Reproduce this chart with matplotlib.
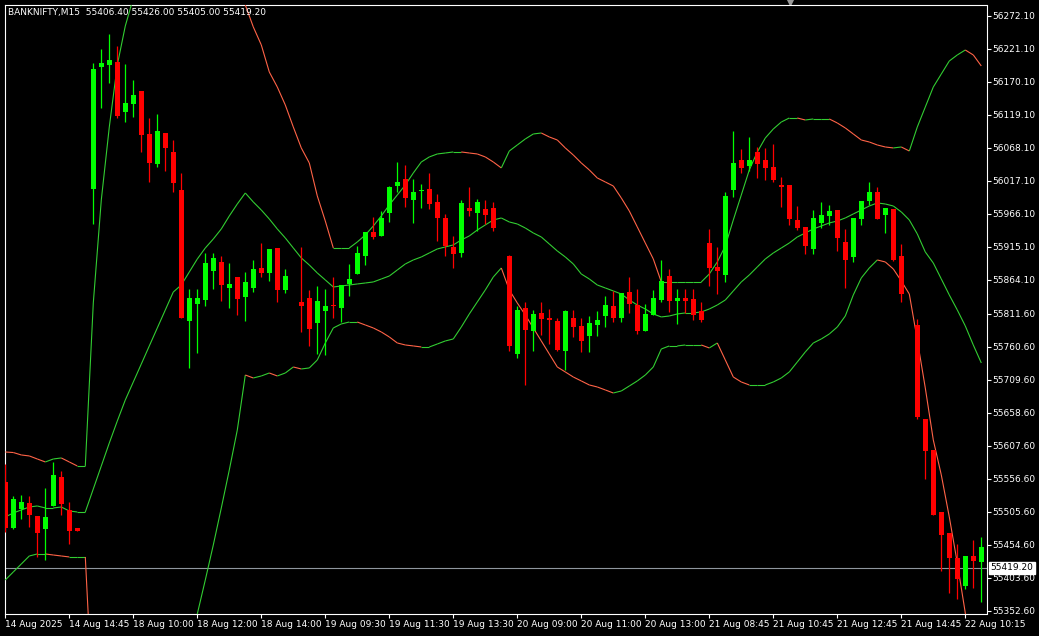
import matplotlib
matplotlib.use("Agg")
import matplotlib.pyplot as plt
from matplotlib.collections import LineCollection

# Données du graphique (BANKNIFTY M15)
title = "BANKNIFTY,M15  55406.40 55426.00 55405.00 55419.20"
last_price = 55419.20

opens = [55551.9, 55480.8, 55510.1, 55519.4, 55499.3, 55479.2, 55514.8, 55559.6, 55508.6, 55480.8, None,
         56004.7, 56193.3, 56196.3, 56201.0, 56123.7, 56136.1, 56156.2, 56089.7, 56043.3, 56091.2,
         56061.9, 56003.2, 55800.7, 55827.0, 55833.1, 55878.0, 55891.9, 55851.7, 55868.7, 55837.8,
         55851.7, 55882.6, 55874.9, 55913.5, 55848.6, None, 55830.1, 55836.2, 55797.6, 55816.1,
         55825.4, 55820.8, 55857.9, 55873.3, 55901.2, 55938.2, 55932.1, 55967.6, 56009.3, 56020.2,
         55987.7, 56001.6, 56004.7, 55984.6, 55959.9, 55915.1, 55905.8, 55975.3, 55967.6, 55973.8,
         55975.3, None, 55901.2, 55749.7, 55820.8, 55785.2, 55813.1, 55805.3, 55800.7, 55754.3,
         55805.3, 55793.0, 55777.5, 55794.5, 55808.4, 55823.9, 55805.3, 55845.5, 55825.4, 55785.2,
         55810.0, 55833.1, 55870.2, 55831.6, 55836.2, 55834.7, 55816.1, 55921.2, 55884.2, 55871.8,
         56003.2, 56049.5, 56040.2, 56061.9, 56049.5, 56038.7, 56010.9, 56010.9, 55956.8, 55946.0,
         55912.0, 55952.2, 55963.0, 55972.2, 55922.8, 55899.6, 55958.3, 55986.2, 56000.1, 55964.5,
         55973.8, 55901.2, None, 55794.5, 55649.2, 55601.3, 55505.5, 55473.0, 55434.4, 55391.1,
         55437.5, 55428.2]

highs = [55579.7, 55530.2, 55531.8, 55530.2, 55499.3, 55542.6, 55582.8, 55568.9, 55521.0, 55480.8, None,
         56199.4, 56221.1, 56244.3, 56225.7, 56197.9, 56173.2, 56156.2, 56114.4, 56120.6, 56091.2,
         56080.4, 56029.4, 55850.2, 55850.2, 55905.8, 55905.8, 55901.2, 55890.3, 55868.7, 55876.4,
         55895.0, 55921.2, 55912.0, 55913.5, 55881.1, None, 55915.1, 55848.6, 55854.8, 55850.2,
         55868.7, 55856.3, 55888.8, 55916.6, 55938.2, 55961.4, 55970.7, 56009.3, 56046.4, 56041.8,
         56020.2, 56012.4, 56029.4, 55997.0, 55966.1, 55932.1, 55987.7, 56007.8, 55989.3, 55987.7,
         55984.6, None, 55902.7, 55823.9, 55830.1, 55817.7, 55830.1, 55819.2, 55805.3, 55817.7,
         55817.7, 55805.3, 55808.4, 55816.1, 55839.3, 55847.1, 55844.0, 55868.7, 55850.2, 55827.0,
         55848.6, 55895.0, 55881.1, 55850.2, 55850.2, 55850.2, 55830.1, 55942.9, 55915.1, 56000.1,
         56094.3, 56066.5, 56085.1, 56069.6, 56068.1, 56074.2, 56023.2, 56010.9, 55978.4, 55946.0,
         55972.2, 55984.6, 55980.0, 55972.2, 55942.9, 55959.9, 55986.2, 56015.5, 56007.8, 55975.3,
         55973.8, 55919.7, None, 55803.8, 55649.2, 55601.3, 55505.5, 55473.0, 55456.0, 55437.5,
         55462.2, 55466.9]

lows = [55474.6, 55479.0, 55494.7, 55482.3, 55436.0, 55431.3, 55514.8, 55500.9, 55456.0, 55476.1, None,
        55950.6, 56129.9, 56168.5, 56114.4, 56108.2, 56116.0, 56061.9, 56015.5, 56038.7, 56032.5,
        56000.1, 55805.3, 55728.1, 55751.2, 55823.9, 55850.2, 55831.6, 55820.8, 55810.0, 55800.7,
        55845.5, 55868.7, 55862.5, 55830.1, 55844.0, None, 55783.7, 55762.1, 55749.7, 55748.1,
        55805.3, 55799.1, 55839.3, 55873.3, 55887.2, 55927.4, 55932.1, 55953.7, 56000.1, 55976.9,
        55952.2, 55975.3, 55973.8, 55924.3, 55901.2, 55882.6, 55899.6, 55963.0, 55939.8, 55950.6,
        55939.8, None, 55754.3, 55743.5, 55701.8, 55754.3, 55779.1, 55765.1, 55754.3, 55725.0,
        55776.0, 55752.8, 55752.8, 55777.5, 55791.4, 55799.1, 55799.1, 55813.1, 55780.6, 55785.2,
        55810.0, 55830.1, 55814.6, 55796.1, 55813.1, 55802.2, 55799.1, 55854.8, 55842.4, 55861.0,
        55992.3, 56029.4, 56032.5, 56021.7, 56018.6, 56015.5, 55976.9, 55949.1, 55941.3, 55904.2,
        55904.2, 55944.4, 55949.1, 55908.9, 55851.7, 55891.9, 55949.1, 55980.0, 55958.3, 55936.7,
        55893.4, 55830.1, None, 55649.2, 55556.5, 55500.9, 55414.3, 55380.3, 55371.0, 55386.5,
        55388.0, 55366.4]

closes = [55480.8, 55525.6, 55521.0, 55500.9, 55473.0, 55497.8, 55562.7, 55517.9, 55476.1, 55476.1, None,
          56190.2, 56199.4, 56204.1, 56117.5, 56137.6, 56150.0, 56088.2, 56044.9, 56094.3, 56068.1,
          56014.0, 55805.3, 55836.2, 55836.2, 55890.3, 55898.1, 55856.3, 55857.9, 55834.7, 55861.0,
          55881.1, 55874.9, 55912.0, 55848.6, 55870.2, None, 55823.9, 55788.3, 55831.6, 55823.9,
          55823.9, 55856.3, 55865.6, 55905.8, 55938.2, 55930.5, 55959.9, 56007.8, 56015.5, 55990.8,
          56000.1, 56003.2, 55981.5, 55959.9, 55916.6, 55904.2, 55983.1, 55970.7, 55984.6, 55964.5,
          55944.4, None, 55762.1, 55817.7, 55786.8, 55811.5, 55803.8, 55802.2, 55755.9, 55816.1,
          55791.4, 55769.8, 55797.6, 55802.2, 55825.4, 55805.3, 55844.0, 55827.0, 55785.2, 55811.5,
          55836.2, 55862.5, 55831.6, 55836.2, 55831.6, 55810.0, 55802.2, 55882.6, 55878.0, 55993.9,
          56044.9, 56037.2, 56049.5, 56043.3, 56037.2, 56018.6, 56007.8, 55958.3, 55944.4, 55916.6,
          55959.9, 55964.5, 55970.7, 55929.0, 55895.0, 55959.9, 55986.2, 56000.1, 55958.3, 55975.3,
          55895.0, 55842.4, None, 55652.3, 55599.8, 55500.9, 55470.0, 55434.4, 55402.0, 55437.5,
          55429.8, 55451.4]

# Bandes de Bollinger
upper = [55598.2, 55597.4, 55593.6, 55592.1, 55587.4, 55582.8, 55587.4, 55589.0, 55582.8, 55576.6, 55576.6,
         55828.5, 55987.7, 56100.5, 56196.3, 56256.6, 56299.9, 56327.7, 56347.8, 56361.7, 56369.4,
         56371.0, 56367.9, 56361.7, 56355.5, 56347.8, 56340.1, 56329.3, 56318.4, 56304.5, 56289.1,
         56255.1, 56227.3, 56185.5, 56162.3, 56134.5, 56100.5, 56068.1, 56044.9, 55993.9, 55955.2,
         55913.5, 55913.5, 55913.5, 55922.8, 55933.6, 55947.5, 55963.0, 55980.0, 55995.4, 56010.9,
         56029.4, 56046.4, 56054.2, 56058.8, 56060.3, 56061.9, 56061.9, 56060.3, 56058.8, 56054.2,
         56046.4, 56037.2, 56063.4, 56072.7, 56082.0, 56089.7, 56091.2, 56085.1, 56080.4, 56068.1,
         56057.2, 56044.9, 56034.1, 56021.7, 56015.5, 56009.3, 55990.8, 55970.7, 55946.0, 55921.2,
         55896.5, 55861.0, 55861.0, 55861.0, 55861.0, 55861.0, 55861.0, 55873.3, 55891.9, 55916.6,
         55956.8, 55995.4, 56034.1, 56061.9, 56083.5, 56097.4, 56108.2, 56114.4, 56114.4, 56111.3,
         56112.9, 56112.9, 56112.9, 56106.7, 56099.0, 56089.7, 56080.4, 56077.3, 56072.7, 56069.6,
         56068.1, 56069.6, 56063.4, 56100.5, 56131.4, 56162.3, 56182.4, 56202.5, 56211.8, 56219.5,
         56211.8, 56194.8]

middle = [55497.8, 55504.0, 55508.6, 55513.2, 55514.8, 55511.7, 55511.7, 55513.2, 55507.0, 55505.5, 55505.5,
          55541.1, 55576.6, 55612.1, 55646.1, 55678.6, 55706.4, 55734.2, 55762.1, 55789.9, 55817.7,
          55845.5, 55856.3, 55876.4, 55896.5, 55913.5, 55927.4, 55942.9, 55963.0, 55981.5, 55998.5,
          55984.6, 55972.2, 55958.3, 55942.9, 55929.0, 55913.5, 55898.1, 55887.2, 55874.9, 55864.1,
          55853.2, 55854.8, 55856.3, 55857.9, 55859.4, 55861.0, 55865.6, 55870.2, 55879.5, 55888.8,
          55895.0, 55899.6, 55905.8, 55912.0, 55915.1, 55918.2, 55925.9, 55932.1, 55941.3, 55949.1,
          55956.8, 55959.9, 55953.7, 55950.6, 55944.4, 55936.7, 55930.5, 55919.7, 55908.9, 55899.6,
          55888.8, 55873.3, 55865.6, 55856.3, 55851.7, 55847.1, 55842.4, 55833.1, 55825.4, 55819.2,
          55811.5, 55806.9, 55808.4, 55811.5, 55813.1, 55813.1, 55814.6, 55819.2, 55825.4, 55833.1,
          55847.1, 55861.0, 55871.8, 55884.2, 55896.5, 55905.8, 55913.5, 55921.2, 55930.5, 55936.7,
          55942.9, 55947.5, 55952.2, 55955.2, 55959.9, 55966.1, 55972.2, 55978.4, 55983.1, 55981.5,
          55978.4, 55969.2, 55956.8, 55935.2, 55907.3, 55890.3, 55865.6, 55840.9, 55817.7, 55793.0,
          55763.6, 55735.8]

lower = [55400.4, 55412.8, 55425.1, 55437.5, 55440.6, 55440.6, 55439.0, 55437.5, 55436.0, 55436.0, 55436.0,
         55191.8, 55060.4, 54967.7, 54913.6, 54882.7, 54867.2, 54867.2, 54882.7, 54913.6, 54967.7,
         55060.4, 55168.6, 55269.0, 55347.9, 55400.4, 55454.5, 55511.7, 55570.4, 55632.2, 55717.2,
         55712.6, 55715.7, 55720.3, 55715.7, 55720.3, 55729.6, 55726.5, 55728.1, 55740.4, 55766.7,
         55789.9, 55796.1, 55799.1, 55799.1, 55794.5, 55789.9, 55783.7, 55776.0, 55766.7, 55763.6,
         55762.1, 55760.5, 55760.5, 55765.1, 55769.8, 55772.9, 55791.4, 55811.5, 55830.1, 55848.6,
         55868.7, 55882.6, 55848.6, 55828.5, 55810.0, 55789.9, 55769.8, 55749.7, 55729.6, 55721.9,
         55714.1, 55708.0, 55701.8, 55698.7, 55694.1, 55689.4, 55692.5, 55700.2, 55708.0, 55717.2,
         55729.6, 55757.4, 55762.1, 55762.1, 55763.6, 55763.6, 55763.6, 55759.0, 55766.7, 55740.4,
         55714.1, 55706.4, 55701.8, 55701.8, 55701.8, 55706.4, 55712.6, 55721.9, 55737.3, 55752.8,
         55766.7, 55772.9, 55780.6, 55791.4, 55808.4, 55840.9, 55867.2, 55882.6, 55895.0, 55891.9,
         55881.1, 55862.5, 55842.4, 55771.3, 55697.1, 55616.8, 55562.7, 55497.8, 55426.7, 55349.4,
         55276.8, 55214.9]

# Axes
ytick_vals = [56272.10, 56221.10, 56170.10, 56119.10, 56068.10, 56017.10, 55966.10, 55915.10,
              55864.10, 55811.60, 55760.60, 55709.60, 55658.60, 55607.60, 55556.60, 55505.60,
              55454.60, 55403.60, 55352.60]
xtick_pos = list(range(0, 121, 8))
xtick_labels = ["14 Aug 2025", "14 Aug 14:45", "18 Aug 10:00", "18 Aug 12:00", "18 Aug 14:00",
                "19 Aug 09:30", "19 Aug 11:30", "19 Aug 13:30", "20 Aug 09:00", "20 Aug 11:00",
                "20 Aug 13:00", "21 Aug 08:45", "21 Aug 10:45", "21 Aug 12:45", "21 Aug 14:45",
                "22 Aug 10:15"]

BULL = "#00ff00"
BEAR = "#ff0000"
UP_LINE = "#32cd32"
DOWN_LINE = "#ff6347"
FS = 6.5

fig = plt.figure(figsize=(10.39, 6.36), dpi=100, facecolor="black")
ax = fig.add_axes([4.5 / 1039, 22.5 / 636, 982 / 1039, 609 / 636])
ax.set_facecolor("black")


def band(values, colored):
    segs, cols = [], []
    for k in range(1, len(values)):
        segs.append([(k - 1, values[k - 1]), (k, values[k])])
        if not colored or values[k] >= values[k - 1]:
            cols.append(UP_LINE)
        else:
            cols.append(DOWN_LINE)
    ax.add_collection(LineCollection(segs, colors=cols, linewidths=0.8, zorder=3))


band(upper, True)
band(middle, False)
band(lower, True)

# Bougies
for i in range(len(opens)):
    o, h, l, c = opens[i], highs[i], lows[i], closes[i]
    if o is None:
        continue
    col = BULL if c >= o else BEAR
    ax.vlines(i, l, h, color=col, linewidth=0.9, zorder=4)
    body = max(abs(c - o), 1.6)
    ax.bar(i, body, bottom=min(o, c), width=0.62, color=col, linewidth=0, zorder=5)

# Ligne du prix actuel
ax.axhline(last_price, color="#8f969e", linewidth=0.8, zorder=2)
ax.annotate(f"{last_price:.2f}", xy=(1.0, last_price), xycoords=("axes fraction", "data"),
            xytext=(3, 0), textcoords="offset points", va="center", ha="left",
            fontsize=FS, color="black",
            bbox=dict(boxstyle="square,pad=0.15", facecolor="white", edgecolor="white"))

ax.set_xlim(-0.1, 122.65)
ax.set_ylim(55348.6, 56289.8)

ax.set_xticks(xtick_pos)
ax.set_xticklabels(xtick_labels, ha="left")
ax.yaxis.tick_right()
ax.set_yticks(ytick_vals)
ax.set_yticklabels([f"{v:.2f}" for v in ytick_vals])
ax.tick_params(colors="white", labelcolor="white", labelsize=FS, length=3, width=0.8,
               direction="out", pad=1.5)
ax.tick_params(axis="x", pad=2)
for s in ax.spines.values():
    s.set_color("white")
    s.set_linewidth(0.8)

fig.text(8 / 1039, 1 - 12 / 636, title, color="white", fontsize=FS, va="center", ha="left")
# petit triangle du décalage du graphique
ax.plot([0.76], [0.997], marker="v", markersize=5, color="#9a9a9a",
        transform=fig.transFigure, clip_on=False)

fig.savefig("out.png", dpi=100, facecolor="black")
